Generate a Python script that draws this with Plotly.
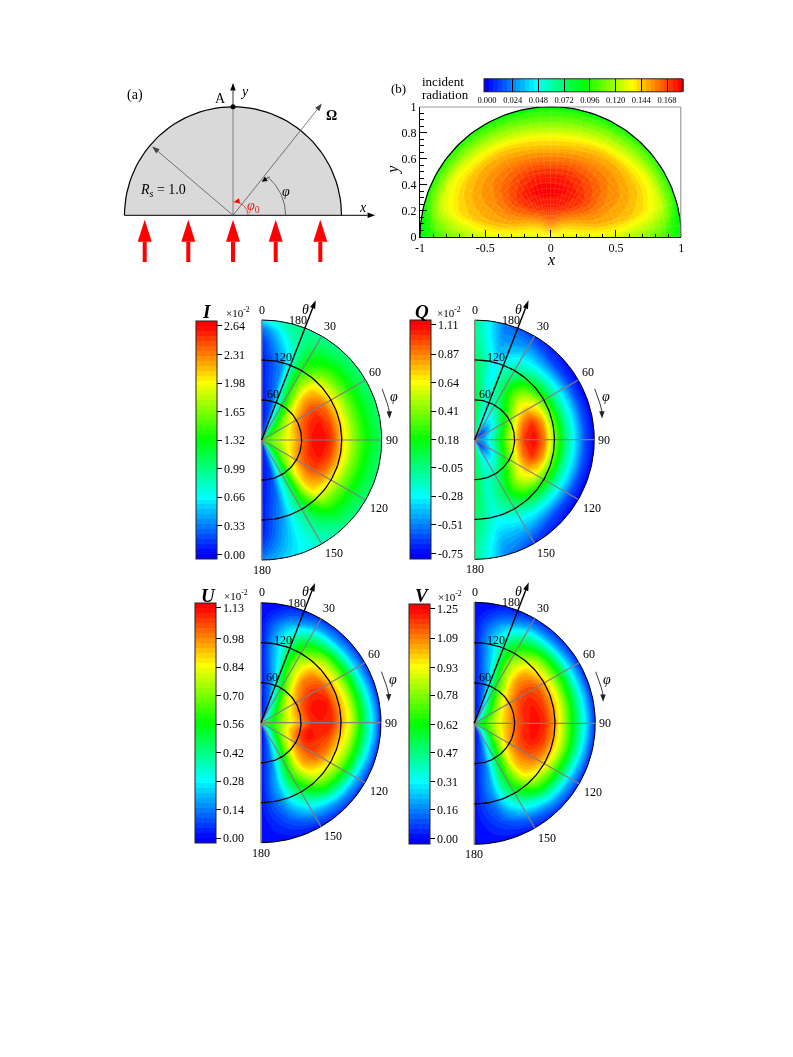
import numpy as np
import plotly.graph_objects as go

W, H = 793, 1057
FONT = "Liberation Serif"

# ---------- data (polar panels: rows = phi, columns = theta) ----------
THETA = [0, 15, 30, 45, 60, 75, 90, 105, 120, 135, 150, 165, 180]
PHI = [0, 15, 30, 45, 60, 75, 90, 105, 120, 135, 150, 165, 180]

I_VALUES = [
    [.10, .05, .03, .03, .03, .03, .05, .05, .05, .08, .12, .25, .60],
    [.30, .20, .20, .20, .25, .30, .33, .35, .40, .55, .70, .85, .95],
    [.80, .75, .85, 1.0, 1.15, 1.30, 1.42, 1.45, 1.40, 1.30, 1.20, 1.05, .95],
    [1.10, 1.15, 1.35, 1.60, 1.85, 2.05, 2.15, 2.10, 1.90, 1.60, 1.35, 1.15, 1.0],
    [1.30, 1.35, 1.60, 1.90, 2.20, 2.40, 2.48, 2.35, 2.05, 1.70, 1.40, 1.15, 1.02],
    [1.40, 1.55, 1.75, 2.05, 2.35, 2.55, 2.60, 2.45, 2.10, 1.72, 1.42, 1.18, 1.05],
    [1.45, 1.60, 1.85, 2.05, 2.35, 2.58, 2.64, 2.50, 2.10, 1.75, 1.45, 1.22, 1.05],
    [1.40, 1.55, 1.75, 2.05, 2.35, 2.55, 2.60, 2.45, 2.10, 1.72, 1.42, 1.18, 1.05],
    [1.30, 1.35, 1.60, 1.90, 2.20, 2.40, 2.45, 2.30, 2.0, 1.65, 1.38, 1.15, 1.02],
    [1.0, 1.05, 1.30, 1.55, 1.80, 2.0, 2.10, 2.05, 1.85, 1.55, 1.30, 1.10, .95],
    [.55, .60, .72, .85, .95, 1.0, 1.05, 1.08, 1.0, .98, .92, .85, .80],
    [.15, .15, .15, .15, .20, .25, .30, .35, .40, .45, .50, .55, .60],
    [.05, .03, .03, .03, .03, .03, .03, .05, .05, .05, .10, .20, .35],
]
Q_VALUES = [
    [.10, .10, .10, .10, .10, .08, .06, .04, .02, -.02, -.05, -.08, -.05],
    [-.10, -.15, -.20, -.20, -.20, -.25, -.28, -.30, -.32, -.38, -.45, -.50, -.55],
    [-.50, -.50, -.35, -.25, -.12, -.02, .05, .0, -.10, -.25, -.38, -.52, -.65],
    [-.75, -.60, -.38, -.15, .10, .32, .45, .35, .12, -.15, -.40, -.62, -.72],
    [-.70, -.55, -.28, .05, .38, .65, .75, .62, .28, -.08, -.35, -.62, -.75],
    [-.60, -.45, -.15, .22, .58, .92, 1.03, .82, .38, -.02, -.32, -.60, -.75],
    [-.55, -.40, -.10, .30, .68, 1.02, 1.11, .88, .42, .0, -.30, -.60, -.75],
    [-.60, -.45, -.15, .22, .58, .92, 1.03, .82, .38, -.02, -.32, -.60, -.75],
    [-.70, -.55, -.28, .05, .38, .65, .75, .62, .28, -.08, -.35, -.62, -.75],
    [-.75, -.60, -.38, -.15, .10, .32, .45, .35, .12, -.15, -.40, -.62, -.72],
    [-.50, -.50, -.35, -.25, -.12, -.02, .05, .0, -.10, -.25, -.38, -.52, -.65],
    [-.10, -.15, -.15, -.18, -.18, -.20, -.20, -.22, -.25, -.30, -.38, -.45, -.50],
    [.08, .08, .08, .08, .08, .06, .05, .03, .0, -.02, -.05, -.08, -.06],
]
U_VALUES = [
    [.0, .0, .0, .01, .01, .01, .01, .01, .01, .01, .01, .0, .0],
    [.02, .05, .08, .12, .16, .20, .25, .28, .30, .27, .20, .10, .03],
    [.08, .18, .30, .42, .55, .65, .72, .72, .65, .55, .38, .18, .05],
    [.20, .33, .50, .68, .82, .93, .98, .95, .85, .70, .45, .20, .05],
    [.32, .42, .62, .80, .95, 1.05, 1.08, 1.05, .92, .74, .50, .23, .05],
    [.42, .50, .68, .85, 1.0, 1.10, 1.13, 1.10, .95, .78, .53, .27, .05],
    [.45, .52, .70, .85, .97, 1.08, 1.10, 1.10, .95, .80, .55, .30, .05],
    [.45, .55, .72, .90, 1.05, 1.13, 1.08, 1.03, .90, .75, .52, .27, .05],
    [.35, .45, .65, .83, .98, 1.05, 1.05, .98, .85, .70, .47, .22, .05],
    [.22, .33, .50, .66, .80, .90, .92, .85, .75, .60, .38, .18, .05],
    [.10, .18, .28, .38, .48, .56, .60, .55, .47, .36, .24, .12, .03],
    [.03, .05, .08, .12, .14, .17, .20, .20, .17, .13, .09, .05, .01],
    [.0, .0, .0, .01, .01, .01, .01, .01, .01, .01, .0, .0, .0],
]
V_VALUES = [
    [.0, .0, .0, .01, .01, .01, .01, .01, .01, .01, .01, .0, .0],
    [.02, .05, .08, .12, .16, .20, .25, .28, .30, .27, .20, .10, .03],
    [.08, .18, .32, .46, .60, .70, .78, .78, .70, .58, .40, .20, .05],
    [.20, .35, .55, .74, .90, 1.0, 1.06, 1.03, .93, .76, .50, .22, .05],
    [.40, .50, .70, .90, 1.05, 1.15, 1.18, 1.15, 1.02, .80, .55, .26, .05],
    [.52, .62, .82, .98, 1.10, 1.20, 1.23, 1.18, 1.04, .82, .55, .28, .05],
    [.55, .65, .85, 1.0, 1.12, 1.20, 1.25, 1.20, 1.05, .80, .55, .30, .05],
    [.52, .62, .82, .98, 1.10, 1.20, 1.23, 1.18, 1.04, .82, .55, .28, .05],
    [.42, .52, .72, .90, 1.05, 1.13, 1.15, 1.10, .98, .76, .50, .24, .05],
    [.20, .32, .50, .70, .85, .96, 1.0, .97, .85, .67, .42, .20, .05],
    [.08, .16, .28, .40, .50, .58, .62, .60, .52, .40, .26, .12, .03],
    [.03, .05, .08, .12, .14, .17, .20, .20, .17, .13, .09, .05, .01],
    [.0, .0, .0, .01, .01, .01, .01, .01, .01, .01, .0, .0, .0],
]
# incident radiation: rows = polar angle in the x-y plane (0 = +x, 180 = -x), columns = radius
B_RADIUS = [0, .125, .25, .375, .5, .625, .75, .875, 1.0]
B_ANGLE = [0, 15, 30, 45, 60, 75, 90, 105, 120, 135, 150, 165, 180]
B_VALUES = [
    [.135, .130, .130, .130, .128, .120, .112, .100, .088],
    [.135, .134, .142, .148, .148, .145, .138, .125, .092],
    [.135, .140, .152, .158, .155, .152, .145, .130, .095],
    [.135, .146, .162, .168, .163, .156, .147, .125, .095],
    [.135, .152, .170, .175, .168, .158, .145, .120, .092],
    [.135, .158, .175, .179, .172, .157, .140, .115, .090],
    [.135, .160, .176, .180, .172, .155, .138, .112, .090],
    [.135, .158, .175, .180, .172, .157, .140, .115, .090],
    [.135, .152, .170, .176, .168, .158, .145, .120, .092],
    [.135, .146, .162, .168, .163, .156, .147, .125, .095],
    [.135, .140, .152, .158, .155, .152, .145, .130, .095],
    [.135, .134, .142, .148, .148, .145, .138, .125, .092],
    [.135, .130, .130, .130, .128, .120, .112, .100, .088],
]

I_TICKS = ["0.00", "0.33", "0.66", "0.99", "1.32", "1.65", "1.98", "2.31", "2.64"]
Q_TICKS = ["-0.75", "-0.51", "-0.28", "-0.05", "0.18", "0.41", "0.64", "0.87", "1.11"]
U_TICKS = ["0.00", "0.14", "0.28", "0.42", "0.56", "0.70", "0.84", "0.98", "1.13"]
V_TICKS = ["0.00", "0.16", "0.31", "0.47", "0.62", "0.78", "0.93", "1.09", "1.25"]
B_TICKS = ["0.000", "0.024", "0.048", "0.072", "0.096", "0.120", "0.144", "0.168"]
RAINBOW_COLORS = ["rgb(0,0,255)", "rgb(0,255,255)", "rgb(0,255,0)", "rgb(255,255,0)", "rgb(255,0,0)"]

fig = go.Figure()
annots = []
axes = {}
n_axes = 0


def rainbow(low, high, vlo, vhi):
    """Rainbow over vlo..vhi, held flat out to the ends of the bar low..high."""
    stops = [[0, RAINBOW_COLORS[0]]]
    for i, c in enumerate(RAINBOW_COLORS):
        v = vlo + (vhi - vlo) * i / 4
        stops.append([(v - low) / (high - low), c])
    stops.append([1, RAINBOW_COLORS[-1]])
    return stops


def px(x, y):
    return x / W, 1 - y / H


def text(x, y, s, size=12, color="black", angle=0, **kw):
    fx, fy = px(x, y)
    annots.append(dict(x=fx, y=fy, xref="paper", yref="paper", text=s, showarrow=False,
                       xanchor="center", yanchor="middle", textangle=angle,
                       font=dict(family=FONT, size=size, color=color), **kw))


def new_axes(box, xr, yr, **kw):
    """box: x0,y0,x1,y1 in page pixels."""
    global n_axes
    n_axes += 1
    s = "" if n_axes == 1 else str(n_axes)
    x0, y0, x1, y1 = box
    base = dict(visible=False, showgrid=False, zeroline=False)
    base.update(kw)
    axes["xaxis" + s] = dict(domain=[x0 / W, x1 / W], range=xr, anchor="y" + s, **base)
    axes["yaxis" + s] = dict(domain=[1 - y1 / H, 1 - y0 / H], range=yr, anchor="x" + s, **base)
    return "x" + s, "y" + s


def line(ax, xs, ys, color="black", width=1, fill=None, fillcolor=None):
    fig.add_trace(go.Scatter(x=list(xs), y=list(ys), mode="lines", xaxis=ax[0], yaxis=ax[1],
                             line=dict(color=color, width=width), fill=fill, fillcolor=fillcolor,
                             hoverinfo="skip", showlegend=False))


def arrow(ax, x0, y0, x1, y1, color="black", width=1, hl=.065, hw=.05):
    d = np.array([x1 - x0, y1 - y0], float)
    L = np.hypot(*d)
    u = d / L
    n = np.array([-u[1], u[0]])
    tip = np.array([x1, y1])
    base = tip - u * hl
    line(ax, [x0, base[0]], [y0, base[1]], color, width)
    p = [tip, base + n * hw / 2, base - n * hw / 2, tip]
    fig.add_trace(go.Scatter(x=[q[0] for q in p], y=[q[1] for q in p], mode="lines",
                             xaxis=ax[0], yaxis=ax[1], fill="toself", fillcolor=color,
                             line=dict(color=color, width=0), hoverinfo="skip", showlegend=False))


# ---------- panel (a) ----------
cx, cy, R = 233.0, 215.3, 108.5
A = new_axes((100, 75, 390, 270), [(100 - cx) / R, (390 - cx) / R], [(cy - 270) / R, (cy - 75) / R])
t = np.radians(np.arange(0, 181, 3))
line(A, np.cos(t), np.sin(t), "black", 1.2, "toself", "rgb(217,217,217)")
arrow(A, -1.0, 0, 1.31, 0, "black", 1, .07, .05)
arrow(A, 0, 1, 0, 1.22, "black", .8, .07, .05)
line(A, [0, 0], [0, 1], "#777777", .9)
arrow(A, 0, 0, .82, 1.03, "#444444", .7, .07, .05)
arrow(A, 0, 0, -.745, .635, "#444444", .7, .07, .05)
ta = np.radians(np.linspace(0, 49, 20))
arrow(A, .49 * np.cos(ta[-2]), .49 * np.sin(ta[-2]), .265, .31, "black", .7, .05, .05)
line(A, .485 * np.cos(ta), .47 * np.sin(ta), "#333333", .7)
tr = np.radians(np.linspace(0, 88, 20))
line(A, .14 * np.cos(tr), .125 * np.sin(tr), "rgb(255,0,0)", .7)
arrow(A, .04, .13, .01, .125, "rgb(255,0,0)", .7, .05, .05)
fig.add_trace(go.Scatter(x=[0], y=[1], mode="markers", xaxis=A[0], yaxis=A[1], marker=dict(color="black", size=5),
                         hoverinfo="skip", showlegend=False))
for xa in [144.7, 188.3, 233.0, 275.7, 320.3]:
    ux = (xa - cx) / R
    arrow(A, ux, (cy - 262) / R, ux, (cy - 219.7) / R, "rgb(255,0,0)", 4, 22 / R, 14 / R)
text(135, 95, "(a)", 14)
text(220, 98.5, "A", 14)
text(244, 91, "<i>y</i>", 14)
text(331.7, 116, "<b>Ω</b>", 14)
text(363, 208, "<i>x</i>", 14)
text(163, 190, "<i>R<sub>s</sub></i> = 1.0", 14)
text(286, 192, "<i>φ</i>", 14)
text(253.5, 206.5, "<i>φ</i><sub>0</sub>", 14, "rgb(224,30,30)")

# ---------- panel (b) ----------
B = new_axes((420, 106.7, 681.3, 237), [-1, 1], [0, 1], visible=True)
for key, tv, tt, dm in (("xaxis2", [-1, -.5, 0, .5, 1], ["-1", "-0.5", "0", "0.5", "1"], .1),
                        ("yaxis2", [0, .2, .4, .6, .8, 1], ["0", "0.2", "0.4", "0.6", "0.8", "1"], .05)):
    axes[key].update(showline=True, linecolor="black", linewidth=1, ticks="inside", ticklen=7, tickwidth=1,
                     tickcolor="black", tickvals=tv, ticktext=tt, tickfont=dict(family=FONT, size=12, color="black"),
                     minor=dict(ticks="inside", ticklen=3.5, tickwidth=1, tickcolor="black",
                                tickmode="linear", dtick=dm, tick0=0))
axb = np.radians(B_ANGLE)
rb = np.array(B_RADIUS)
bx = np.outer(np.cos(axb), rb)
by = np.outer(np.sin(axb), rb)
mesh = dict(type="linear", showticklabels="none", showline=False, startline=False, endline=False,
            gridcolor="rgba(255,255,255,0.25)", gridwidth=.5, minorgridcount=2,
            minorgridcolor="rgba(255,255,255,0.18)", minorgridwidth=.5, smoothing=1)
fig.add_trace(go.Carpet(a=B_RADIUS, b=B_ANGLE, x=bx.tolist(), y=by.tolist(), carpet="cb",
                        xaxis=B[0], yaxis=B[1], aaxis=mesh, baxis=mesh))
bmin, bmax = -0.0028, 0.182
fig.add_trace(go.Contourcarpet(a=B_RADIUS, b=B_ANGLE, z=B_VALUES, carpet="cb", xaxis=B[0], yaxis=B[1],
                               colorscale=rainbow(bmin, bmax, 0, .18), zmin=bmin, zmax=bmax, autocontour=False,
                               contours=dict(start=bmin, end=bmax, size=(bmax - bmin) / 44, coloring="fill", showlines=False),
                               line=dict(width=0),
                               colorbar=dict(orientation="h", x=484 / W, xanchor="left", y=1 - 118.7 / H, yanchor="bottom",
                                             len=197.7, lenmode="pixels", thickness=13, thicknessmode="pixels",
                                             xpad=0, ypad=0, outlinecolor="#222222", outlinewidth=1, borderwidth=0,
                                             ticks="inside", ticklen=13, tickcolor="black", tickwidth=1,
                                             tickvals=[float(v) for v in B_TICKS], ticktext=B_TICKS,
                                             tickfont=dict(family=FONT, size=8.5, color="black"))))
t = np.radians(np.arange(0, 181, 2))
line(B, np.cos(t), np.sin(t), "black", 1.2)
line(B, [-1, 1], [1, 1], "black", 1)
line(B, [1, 1], [0, 1], "#8a8a8a", 2)
text(398.3, 88.3, "(b)", 13)
text(443.3, 81, "incident", 13)
text(445.7, 94.3, "radiation", 13)
text(550.7, 259, "<i>x</i>", 16)
text(392.7, 170, "<i>y</i>", 16, angle=-90)


# ---------- polar panels ----------
def polar_panel(name, values, ticks, bar, tick_ends, c, title_xy, exp_xy):
    cx, cy, R = c
    P = new_axes((cx - 20, cy - 150, cx + 160, cy + 140), [-20 / R, 160 / R], [-140 / R, 150 / R])
    th = np.array(THETA) / 180.0
    ph = np.radians(PHI)
    X = np.outer(np.sin(ph), th)
    Y = np.outer(np.cos(ph), th)
    off = dict(type="linear", showticklabels="none", showline=False, startline=False, endline=False,
               showgrid=False, minorgridcount=0, smoothing=1)
    cid = "c" + name
    fig.add_trace(go.Carpet(a=THETA, b=PHI, x=X.tolist(), y=Y.tolist(), carpet=cid, xaxis=P[0], yaxis=P[1],
                            aaxis=off, baxis=off))
    x0, y0, x1, y1 = bar
    vlo = float(ticks[0])
    vhi = float(ticks[-1])
    scale = (tick_ends[0] - tick_ends[1]) / (vhi - vlo)
    low = vlo - (y1 - tick_ends[0]) / scale
    high = vhi + (tick_ends[1] - y0) / scale
    fig.add_trace(go.Contourcarpet(a=THETA, b=PHI, z=values, carpet=cid, xaxis=P[0], yaxis=P[1],
                                   colorscale=rainbow(low, high, vlo, vhi), zmin=low, zmax=high, autocontour=False,
                                   contours=dict(start=low, end=high, size=(high - low) / 48, coloring="fill", showlines=False),
                                   line=dict(width=0),
                                   colorbar=dict(x=x0 / W, xanchor="left", y=1 - y1 / H, yanchor="bottom",
                                                 len=y1 - y0, lenmode="pixels", thickness=x1 - x0, thicknessmode="pixels",
                                                 xpad=0, ypad=0, outlinecolor="#222222", outlinewidth=1, borderwidth=0,
                                                 ticks="outside", ticklen=4.5, tickcolor="black", tickwidth=1,
                                                 tickvals=[float(v) for v in ticks], ticktext=ticks,
                                                 tickfont=dict(family=FONT, size=12, color="black"))))
    t = np.radians(np.arange(0, 181, 2))
    line(P, np.sin(t), np.cos(t), "black", 1)
    line(P, [0, 0], [-1, 1], "#8a8a8a", 1.6)
    for a in [30, 60, 90, 120, 150]:
        r = np.radians(a)
        line(P, [0, np.sin(r)], [0, np.cos(r)], "#808080", 1.2)
    for ring in [60, 120]:
        line(P, ring / 180 * np.sin(t), ring / 180 * np.cos(t), "black", 1.3)
    arrow(P, 0, 0, .45, 1.165, "black", 1.4, .07, .045)
    ta = np.radians(np.linspace(67, 79, 8))
    line(P, 1.09 * np.sin(ta), 1.09 * np.cos(ta), "#222222", .9)
    arrow(P, 1.09 * np.sin(ta[-2]), 1.09 * np.cos(ta[-2]), 1.09 * np.sin(ta[-1]) - .005, 1.09 * np.cos(ta[-1]) - .03, "#222222", .9, .06, .045)
    for ux, uy, s in [(.0055, 1.086, "0"), (.3, 1.0, "180"), (.18, .69, "120"), (.09, .38, "60"),
                      (.57, .953, "30"), (.944, .57, "60"), (1.083, 0, "90"), (.98, -.57, "120"),
                      (.6, -.944, "150"), (0, -1.083, "180")]:
        text(cx + ux * R, cy - uy * R, s, 12)
    text(cx + .367 * R, cy - 1.09 * R, "<i>θ</i>", 14)
    text(cx + 1.1 * R, cy - .36 * R, "<i>φ</i>", 14)
    text(title_xy[0], title_xy[1], "<b><i>%s</i></b>" % name, 19)
    text(exp_xy[0], exp_xy[1], "×10<sup>-2</sup>", 11)


polar_panel("I", I_VALUES, I_TICKS, (196.3, 321, 217, 559.3), (554.3, 325.7), (261.7, 440, 120), (207, 311.5), (237.5, 311.5))
polar_panel("Q", Q_VALUES, Q_TICKS, (410.3, 320.3, 431, 559), (554, 325), (474.7, 439.7, 119.6), (422, 311.5), (449, 312))
polar_panel("U", U_VALUES, U_TICKS, (195.3, 603.7, 216.3, 843.3), (838.3, 608.3), (261, 722.7, 120), (208.5, 595), (235.5, 595))
polar_panel("V", V_VALUES, V_TICKS, (409.3, 604, 430.3, 843.7), (839, 609), (474.3, 723.3, 121), (422, 595), (449.5, 595.5))

fig.update_layout(width=W, height=H, margin=dict(l=0, r=0, t=0, b=0, autoexpand=False), paper_bgcolor="white",
                  plot_bgcolor="rgba(0,0,0,0)", showlegend=False, annotations=annots, **axes)
fig.write_html("out.html", config={"displayModeBar": False},
               post_script="document.body.style.margin='0';document.documentElement.style.overflow='hidden';"
                           "document.querySelectorAll('.main-svg').forEach(function(s){s.style.willChange='transform';});")
